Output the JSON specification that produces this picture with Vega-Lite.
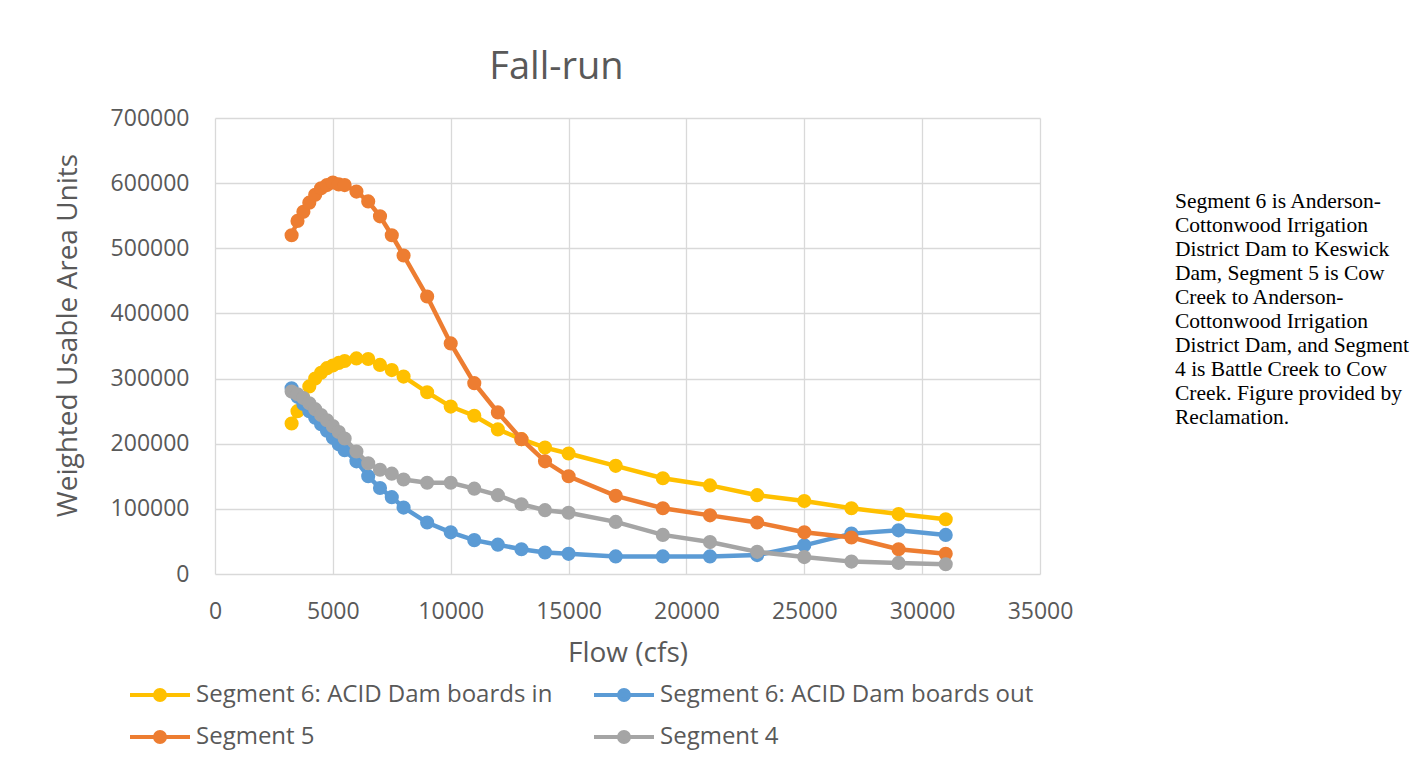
{
  "$schema": "https://vega.github.io/schema/vega-lite/v6.json",
  "background": "white",
  "autosize": {"type": "pad"},
  "padding": {"left": 54, "top": 49, "right": 0, "bottom": 0},
  "config": {
    "font": "Open Sans",
    "view": {"stroke": null},
    "axis": {
      "grid": true, "gridColor": "#d9d9d9", "gridWidth": 1.3,
      "domain": false, "ticks": false, "tickSize": 0, "labelFlush": false,
      "labelFont": "Open Sans", "labelFontSize": 23, "labelColor": "#595959",
      "titleFont": "Open Sans", "titleFontSize": 28, "titleColor": "#595959", "titleFontWeight": "normal"
    }
  },
  "bounds": "flush",
  "spacing": 135,
  "resolve": {"scale": {"color": "independent"}, "legend": {"color": "independent"}},
  "hconcat": [
    {
      "width": 825,
      "height": 456,
      "title": {"text": "Fall-run", "font": "Open Sans", "fontSize": 38, "fontWeight": "normal", "color": "#595959", "anchor": "middle", "dx": -71, "offset": -10, "baseline": "alphabetic"},
      "data": {"values": [
        {"flow": 3250, "Segment 6: ACID Dam boards in": 231000, "Segment 6: ACID Dam boards out": 285000, "Segment 5": 520000, "Segment 4": 280000},
        {"flow": 3500, "Segment 6: ACID Dam boards in": 250000, "Segment 6: ACID Dam boards out": 272000, "Segment 5": 542000, "Segment 4": 276000},
        {"flow": 3750, "Segment 6: ACID Dam boards in": 270000, "Segment 6: ACID Dam boards out": 261000, "Segment 5": 556000, "Segment 4": 270000},
        {"flow": 4000, "Segment 6: ACID Dam boards in": 288000, "Segment 6: ACID Dam boards out": 250000, "Segment 5": 570000, "Segment 4": 262000},
        {"flow": 4250, "Segment 6: ACID Dam boards in": 300000, "Segment 6: ACID Dam boards out": 240000, "Segment 5": 582000, "Segment 4": 253000},
        {"flow": 4500, "Segment 6: ACID Dam boards in": 309000, "Segment 6: ACID Dam boards out": 230000, "Segment 5": 592000, "Segment 4": 244000},
        {"flow": 4750, "Segment 6: ACID Dam boards in": 316000, "Segment 6: ACID Dam boards out": 220000, "Segment 5": 597000, "Segment 4": 236000},
        {"flow": 5000, "Segment 6: ACID Dam boards in": 320000, "Segment 6: ACID Dam boards out": 209000, "Segment 5": 601000, "Segment 4": 227000},
        {"flow": 5250, "Segment 6: ACID Dam boards in": 324000, "Segment 6: ACID Dam boards out": 199000, "Segment 5": 598000, "Segment 4": 218000},
        {"flow": 5500, "Segment 6: ACID Dam boards in": 327000, "Segment 6: ACID Dam boards out": 190000, "Segment 5": 597000, "Segment 4": 208000},
        {"flow": 6000, "Segment 6: ACID Dam boards in": 331000, "Segment 6: ACID Dam boards out": 173000, "Segment 5": 587000, "Segment 4": 188000},
        {"flow": 6500, "Segment 6: ACID Dam boards in": 330000, "Segment 6: ACID Dam boards out": 150000, "Segment 5": 572000, "Segment 4": 170000},
        {"flow": 7000, "Segment 6: ACID Dam boards in": 321000, "Segment 6: ACID Dam boards out": 132000, "Segment 5": 549000, "Segment 4": 160000},
        {"flow": 7500, "Segment 6: ACID Dam boards in": 313000, "Segment 6: ACID Dam boards out": 118000, "Segment 5": 520000, "Segment 4": 154000},
        {"flow": 8000, "Segment 6: ACID Dam boards in": 303000, "Segment 6: ACID Dam boards out": 102000, "Segment 5": 489000, "Segment 4": 145000},
        {"flow": 9000, "Segment 6: ACID Dam boards in": 279000, "Segment 6: ACID Dam boards out": 79000, "Segment 5": 426000, "Segment 4": 140000},
        {"flow": 10000, "Segment 6: ACID Dam boards in": 257000, "Segment 6: ACID Dam boards out": 64000, "Segment 5": 354000, "Segment 4": 140000},
        {"flow": 11000, "Segment 6: ACID Dam boards in": 243000, "Segment 6: ACID Dam boards out": 52000, "Segment 5": 293000, "Segment 4": 131000},
        {"flow": 12000, "Segment 6: ACID Dam boards in": 222000, "Segment 6: ACID Dam boards out": 45000, "Segment 5": 248000, "Segment 4": 121000},
        {"flow": 13000, "Segment 6: ACID Dam boards in": 207000, "Segment 6: ACID Dam boards out": 38000, "Segment 5": 207000, "Segment 4": 107000},
        {"flow": 14000, "Segment 6: ACID Dam boards in": 194000, "Segment 6: ACID Dam boards out": 33000, "Segment 5": 173000, "Segment 4": 98000},
        {"flow": 15000, "Segment 6: ACID Dam boards in": 185000, "Segment 6: ACID Dam boards out": 31000, "Segment 5": 150000, "Segment 4": 94000},
        {"flow": 17000, "Segment 6: ACID Dam boards in": 166000, "Segment 6: ACID Dam boards out": 27000, "Segment 5": 120000, "Segment 4": 80000},
        {"flow": 19000, "Segment 6: ACID Dam boards in": 147000, "Segment 6: ACID Dam boards out": 27000, "Segment 5": 101000, "Segment 4": 60000},
        {"flow": 21000, "Segment 6: ACID Dam boards in": 136000, "Segment 6: ACID Dam boards out": 27000, "Segment 5": 90000, "Segment 4": 49000},
        {"flow": 23000, "Segment 6: ACID Dam boards in": 121000, "Segment 6: ACID Dam boards out": 29000, "Segment 5": 79000, "Segment 4": 34000},
        {"flow": 25000, "Segment 6: ACID Dam boards in": 112000, "Segment 6: ACID Dam boards out": 44000, "Segment 5": 64000, "Segment 4": 26000},
        {"flow": 27000, "Segment 6: ACID Dam boards in": 101000, "Segment 6: ACID Dam boards out": 62000, "Segment 5": 56000, "Segment 4": 19000},
        {"flow": 29000, "Segment 6: ACID Dam boards in": 92000, "Segment 6: ACID Dam boards out": 67000, "Segment 5": 38000, "Segment 4": 17000},
        {"flow": 31000, "Segment 6: ACID Dam boards in": 84000, "Segment 6: ACID Dam boards out": 60000, "Segment 5": 31000, "Segment 4": 15000}
      ]},
      "transform": [
        {"fold": ["Segment 6: ACID Dam boards in", "Segment 6: ACID Dam boards out", "Segment 5", "Segment 4"], "as": ["series", "wua"]}
      ],
      "encoding": {
        "x": {"field": "flow", "type": "quantitative",
              "scale": {"domain": [0, 35000], "nice": false, "zero": false},
              "axis": {"values": [0, 5000, 10000, 15000, 20000, 25000, 30000, 35000], "format": "d", "title": "Flow (cfs)", "labelPadding": 26, "titlePadding": 16}},
        "y": {"field": "wua", "type": "quantitative",
              "scale": {"domain": [0, 700000], "nice": false},
              "axis": {"values": [0, 100000, 200000, 300000, 400000, 500000, 600000, 700000], "format": "d", "title": "Weighted Usable Area Units", "labelPadding": 26, "titlePadding": 28, "titleY": 217}},
        "color": {"field": "series", "type": "nominal",
                  "scale": {"domain": ["Segment 6: ACID Dam boards in", "Segment 6: ACID Dam boards out", "Segment 5", "Segment 4"], "range": ["#FFC000", "#5B9BD5", "#ED7D31", "#A5A5A5"]},
                  "legend": {
                    "orient": "none", "legendX": -67, "legendY": 565, "title": null, "direction": "horizontal",
                    "columns": 2, "columnPadding": 33, "rowPadding": 16, "padding": 0,
                    "symbolType": "M-3,0L3,0M-0.5,0A0.5,0.5,0,1,1,0.5,0A0.5,0.5,0,1,1,-0.5,0Z",
                    "symbolSize": 400, "symbolStrokeWidth": 4, "symbolOpacity": 1,
                    "labelFont": "Open Sans", "labelFontSize": 24, "labelColor": "#595959", "labelOffset": 24, "labelLimit": 0,
                    "encode": {"symbols": {"update": {"fill": {"scale": "color", "field": "value"}, "stroke": {"scale": "color", "field": "value"}, "opacity": {"value": 1}}}}
                  }}
      },
      "layer": [
        {"transform": [{"filter": "datum.series === 'Segment 6: ACID Dam boards in'"}],
         "mark": {"type": "line", "strokeWidth": 4.5, "point": {"filled": true, "size": 200, "opacity": 1}}},
        {"transform": [{"filter": "datum.series === 'Segment 6: ACID Dam boards out'"}],
         "mark": {"type": "line", "strokeWidth": 4.5, "point": {"filled": true, "size": 200, "opacity": 1}}},
        {"transform": [{"filter": "datum.series === 'Segment 5'"}],
         "mark": {"type": "line", "strokeWidth": 4.5, "point": {"filled": true, "size": 200, "opacity": 1}}},
        {"transform": [{"filter": "datum.series === 'Segment 4'"}],
         "mark": {"type": "line", "strokeWidth": 4.5, "point": {"filled": true, "size": 200, "opacity": 1}}}
      ]
    },
    {
      "width": 240,
      "height": 73,
      "data": {"values": []},
      "mark": "text",
      "encoding": {},
      "title": {
        "text": ["Segment 6 is Anderson-", "Cottonwood Irrigation", "District Dam to Keswick", "Dam, Segment 5 is Cow", "Creek to Anderson-", "Cottonwood Irrigation", "District Dam, and Segment", "4 is Battle Creek to Cow", "Creek. Figure provided by", "Reclamation."],
        "orient": "bottom", "anchor": "start", "frame": "group",
        "font": "Liberation Serif", "fontSize": 21.5, "lineHeight": 24, "fontWeight": "normal",
        "color": "#000000", "baseline": "top", "offset": 0
      }
    }
  ]
}
